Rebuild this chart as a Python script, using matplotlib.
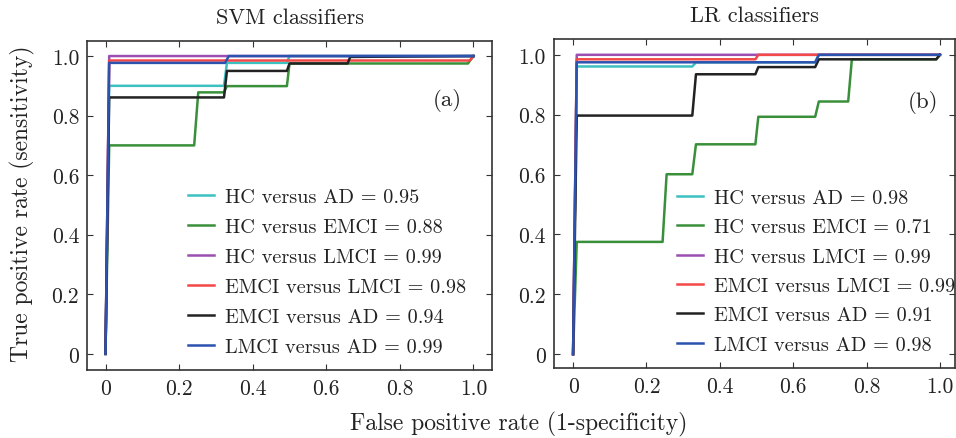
import matplotlib
matplotlib.use("Agg")
import matplotlib.pyplot as plt

plt.rcParams['font.family'] = ['cmr10', 'DejaVu Serif']
plt.rcParams['axes.formatter.use_mathtext'] = True
plt.rcParams['mathtext.fontset'] = 'cm'

# ---------------- data ----------------
series_names = ["HC versus AD", "HC versus EMCI", "HC versus LMCI",
                "EMCI versus LMCI", "EMCI versus AD", "LMCI versus AD"]
colors = ["#3cc0c0", "#3a8f3a", "#9b4fb0", "#f24848", "#222222", "#2c52b0"]

svm_auc = [0.95, 0.88, 0.99, 0.98, 0.94, 0.99]
lr_auc = [0.98, 0.71, 0.99, 0.99, 0.91, 0.98]

# SVM ROC curves (FPR, TPR)
svm_hc_ad_fpr = [0, 0.01, 0.322, 0.33, 0.493, 0.50, 1.0]
svm_hc_ad_tpr = [0, 0.90, 0.90, 0.977, 0.977, 1.0, 1.0]
svm_hc_emci_fpr = [0, 0.01, 0.241, 0.252, 0.322, 0.33, 0.493, 0.50, 0.985, 1.0]
svm_hc_emci_tpr = [0, 0.70, 0.70, 0.878, 0.878, 0.899, 0.899, 0.975, 0.975, 1.0]
svm_hc_lmci_fpr = [0, 0.01, 1.0]
svm_hc_lmci_tpr = [0, 1.0, 1.0]
svm_emci_lmci_fpr = [0, 0.01, 0.99, 1.0]
svm_emci_lmci_tpr = [0, 0.985, 0.985, 1.0]
svm_emci_ad_fpr = [0, 0.01, 0.322, 0.33, 0.493, 0.50, 0.658, 0.665, 1.0]
svm_emci_ad_tpr = [0, 0.861, 0.861, 0.95, 0.95, 0.975, 0.975, 0.997, 1.0]
svm_lmci_ad_fpr = [0, 0.01, 0.325, 0.335, 1.0]
svm_lmci_ad_tpr = [0, 0.977, 0.977, 1.0, 1.0]

# LR ROC curves (FPR, TPR)
lr_hc_ad_fpr = [0, 0.01, 0.325, 0.335, 0.66, 0.67, 1.0]
lr_hc_ad_tpr = [0, 0.961, 0.961, 0.975, 0.975, 1.0, 1.0]
lr_hc_emci_fpr = [0, 0.01, 0.244, 0.255, 0.325, 0.335, 0.497, 0.505, 0.66, 0.67,
                  0.75, 0.76, 0.99, 1.0]
lr_hc_emci_tpr = [0, 0.375, 0.375, 0.601, 0.601, 0.701, 0.701, 0.793, 0.793, 0.844,
                  0.844, 0.985, 0.985, 1.0]
lr_hc_lmci_fpr = [0, 0.01, 1.0]
lr_hc_lmci_tpr = [0, 1.0, 1.0]
lr_emci_lmci_fpr = [0, 0.01, 0.497, 0.505, 1.0]
lr_emci_lmci_tpr = [0, 0.985, 0.985, 1.0, 1.0]
lr_emci_ad_fpr = [0, 0.01, 0.325, 0.335, 0.497, 0.505, 0.66, 0.67, 0.99, 1.0]
lr_emci_ad_tpr = [0, 0.797, 0.797, 0.935, 0.935, 0.959, 0.959, 0.985, 0.985, 1.0]
lr_lmci_ad_fpr = [0, 0.01, 0.66, 0.67, 1.0]
lr_lmci_ad_tpr = [0, 0.975, 0.975, 1.0, 1.0]

tick_values = [0, 0.2, 0.4, 0.6, 0.8, 1.0]
tick_labels = ["0", "0.2", "0.4", "0.6", "0.8", "1.0"]

svm_curves = [(svm_hc_ad_fpr, svm_hc_ad_tpr), (svm_hc_emci_fpr, svm_hc_emci_tpr),
              (svm_hc_lmci_fpr, svm_hc_lmci_tpr), (svm_emci_lmci_fpr, svm_emci_lmci_tpr),
              (svm_emci_ad_fpr, svm_emci_ad_tpr), (svm_lmci_ad_fpr, svm_lmci_ad_tpr)]
lr_curves = [(lr_hc_ad_fpr, lr_hc_ad_tpr), (lr_hc_emci_fpr, lr_hc_emci_tpr),
             (lr_hc_lmci_fpr, lr_hc_lmci_tpr), (lr_emci_lmci_fpr, lr_emci_lmci_tpr),
             (lr_emci_ad_fpr, lr_emci_ad_tpr), (lr_lmci_ad_fpr, lr_lmci_ad_tpr)]

# ---------------- figure ----------------
fig = plt.figure(figsize=(9.56, 4.39), dpi=100)
ax1 = fig.add_axes([0.0915, 0.155, 0.423, 0.749])
ax2 = fig.add_axes([0.5795, 0.159, 0.419, 0.750])

spine_col = "#333333"
txt_col = "#222222"
fs_leg = 14.6
fs_tick = 15.5

def style(ax, xlim, ylim):
    ax.set_xlim(*xlim)
    ax.set_ylim(*ylim)
    ax.set_xticks(tick_values, tick_labels)
    ax.set_yticks(tick_values, tick_labels)
    ax.tick_params(direction='in', top=True, right=True, length=4, width=0.8,
                   colors=spine_col, labelcolor=txt_col, labelsize=fs_tick, pad=6)
    for s in ax.spines.values():
        s.set_color(spine_col)
        s.set_linewidth(1.2)

for ax, curves, aucs, title, tag, tagpos, legpos, spacing in [
        (ax1, svm_curves, svm_auc, "SVM classifiers", "(a)", (0.889, 0.824), (0.248, 0.553), 0.58),
        (ax2, lr_curves, lr_auc, "LR classifiers", "(b)", (0.92, 0.809), (0.307, 0.545), 0.55)]:
    for (x, y), c, name, auc in zip(curves, colors, series_names, aucs):
        ax.plot(x, y, color=c, lw=1.8, label=f"{name} = {auc:.2f}")
    ax.set_title(title, fontsize=16, pad=13, color=txt_col)
    ax.text(tagpos[0], tagpos[1], tag, transform=ax.transAxes, fontsize=16.5,
            ha='center', va='center', color=txt_col)
    leg = ax.legend(loc='upper left', bbox_to_anchor=legpos, frameon=False,
                    fontsize=fs_leg, handlelength=1.3, handletextpad=0.55,
                    labelspacing=spacing, borderpad=0, borderaxespad=0)
    for t in leg.get_texts():
        t.set_color(txt_col)

style(ax1, (-0.049, 1.05), (-0.054, 1.05))
style(ax2, (-0.052, 1.04), (-0.047, 1.053))

fig.text(22 / 956, 0.535, "True positive rate (sensitivity)", fontsize=17,
         rotation=90, ha='center', va='center', color=txt_col)
fig.text(0.543, 0.032, "False positive rate (1-specificity)", fontsize=17,
         ha='center', va='center', color=txt_col)

fig.savefig("out.png", dpi=100)
